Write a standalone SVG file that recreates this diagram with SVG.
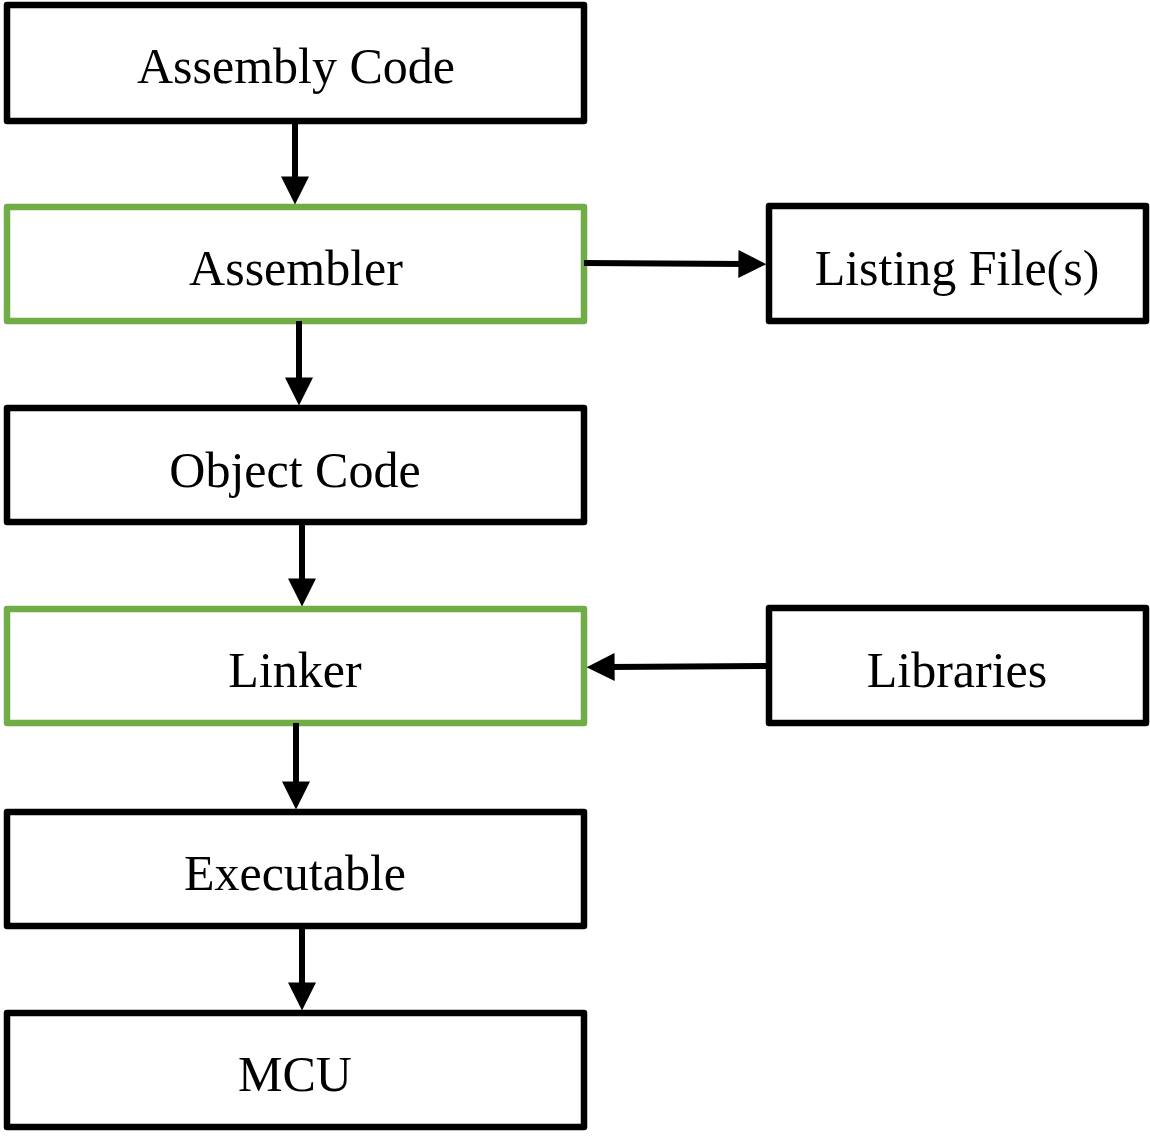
<svg xmlns="http://www.w3.org/2000/svg" width="1150" height="1136" viewBox="0 0 1150 1136">
<defs>
<style>
.box{fill:#fff;stroke:#000;stroke-width:6.5;stroke-linejoin:round}
.green{stroke:#70ad47}
.lbl{font-family:"Liberation Serif","Times New Roman",serif;font-size:50px;fill:#000;text-anchor:middle}
.con{stroke:#000;stroke-width:6;fill:none}
</style>
<marker id="ah" viewBox="0 0 10 10" refX="2" refY="5" markerUnits="userSpaceOnUse" markerWidth="29" markerHeight="28" orient="auto">
<path d="M0,0 L10,5 L0,10 Z" fill="#000"/>
</marker>
</defs>
<rect width="1150" height="1136" fill="#fff"/>
<g id="assembly-code"><rect class="box" x="7" y="5" width="577" height="116"/><text class="lbl" x="296" y="83">Assembly Code</text></g>
<g id="assembler"><rect class="box green" x="7" y="207" width="577" height="114"/><text class="lbl" x="296" y="285">Assembler</text></g>
<g id="listing-files"><rect class="box" x="769" y="206" width="377" height="115"/><text class="lbl" x="957" y="285">Listing File(s)</text></g>
<g id="object-code"><rect class="box" x="7" y="408" width="577" height="114"/><text class="lbl" x="295" y="487">Object Code</text></g>
<g id="linker"><rect class="box green" x="7" y="609" width="577" height="114"/><text class="lbl" x="295" y="687">Linker</text></g>
<g id="libraries"><rect class="box" x="769" y="608" width="377" height="115"/><text class="lbl" x="957" y="687">Libraries</text></g>
<g id="executable"><rect class="box" x="7" y="812" width="577" height="114"/><text class="lbl" x="295" y="890">Executable</text></g>
<g id="mcu"><rect class="box" x="7" y="1013" width="577" height="114"/><text class="lbl" x="295" y="1091">MCU</text></g>
<g id="connectors">
<line class="con" x1="295" y1="121" x2="295" y2="182" marker-end="url(#ah)"/>
<line class="con" x1="299" y1="321" x2="299" y2="383" marker-end="url(#ah)"/>
<line class="con" x1="302" y1="522" x2="302" y2="584" marker-end="url(#ah)"/>
<line class="con" x1="296" y1="723" x2="296" y2="787" marker-end="url(#ah)"/>
<line class="con" x1="302" y1="926" x2="302" y2="988" marker-end="url(#ah)"/>
<line class="con" x1="584" y1="263" x2="744" y2="264" marker-end="url(#ah)"/>
<line class="con" x1="767" y1="666" x2="609" y2="667" marker-end="url(#ah)"/>
</g>
</svg>
